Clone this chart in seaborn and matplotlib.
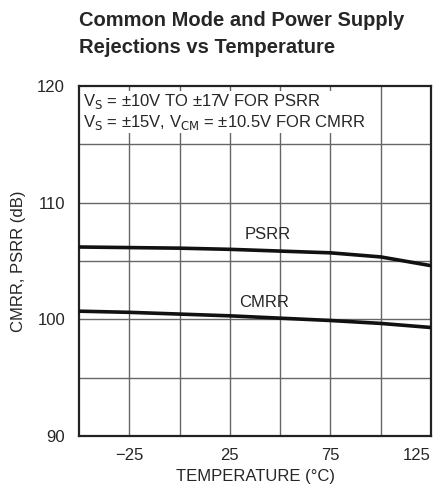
import numpy as np
import pandas as pd
import seaborn as sns
import matplotlib.pyplot as plt
from matplotlib import font_manager

# values
temp = [-50, -25, 0, 25, 50, 75, 100, 125]
psrr = [106.2, 106.15, 106.1, 106.0, 105.85, 105.7, 105.35, 104.6]
cmrr = [100.7, 100.6, 100.45, 100.3, 100.1, 99.9, 99.65, 99.3]

xticks = [-25, 25, 75, 125]
xtick_labels = ["\u221225", "25", "75", "125"]
yticks = [90, 100, 110, 120]

sns.set_style("white")
names = {f.name for f in font_manager.fontManager.ttflist}
fam = "Liberation Sans Narrow" if "Liberation Sans Narrow" in names else "Liberation Sans"
plt.rcParams["font.family"] = [fam, "DejaVu Sans"]

df = pd.DataFrame({"temp": temp * 2, "db": psrr + cmrr,
                   "kind": ["PSRR"] * len(temp) + ["CMRR"] * len(temp)})

fig = plt.figure(figsize=(4.43, 4.91), dpi=100)
ax = fig.add_axes([79 / 443, 1 - 436 / 491, 352 / 443, 350 / 491])

for x in range(-25, 125, 25):
    ax.axvline(x, color="#666666", lw=1.0, zorder=1)
for y in range(95, 120, 5):
    ax.axhline(y, color="#666666", lw=1.0, zorder=1)

sns.lineplot(data=df, x="temp", y="db", units="kind", estimator=None,
             color="#111111", lw=2.6, ax=ax, legend=False, zorder=3)

ax.set_xlim(-50, 125)
ax.set_ylim(90, 120)
ax.set_xticks(xticks)
ax.set_xticklabels(xtick_labels)
ax.set_yticks(yticks)
ax.tick_params(labelsize=12, length=0, pad=9)
ax.tick_params(axis="y", pad=10)
for s in ax.spines.values():
    s.set_color("#222222")
    s.set_linewidth(1.6)
# keep the last tick label inside the canvas
ax.get_xticklabels()[-1].set_ha("right")
ax.get_xticklabels()[-1].set_x(126)

ax.set_xlabel("TEMPERATURE (\u00b0C)", fontsize=12, labelpad=4)
ax.set_ylabel("CMRR, PSRR (dB)", fontsize=12, labelpad=8)

ax.text(-48, 119.5, "V$_\\mathrm{S}$ = \u00b110V TO \u00b117V FOR PSRR\n"
        "V$_\\mathrm{S}$ = \u00b115V, V$_\\mathrm{CM}$ = \u00b110.5V FOR CMRR",
        fontsize=12, va="top", ha="left", linespacing=1.15,
        bbox=dict(facecolor="white", edgecolor="none", pad=1), zorder=4)

ax.text(44, 106.6, "PSRR", fontsize=12, ha="center", va="bottom")
ax.text(42, 100.8, "CMRR", fontsize=12, ha="center", va="bottom")

fig.text(79 / 443, 1 - 11 / 491, "Common Mode and Power Supply\nRejections vs Temperature",
         fontsize=14.5, fontweight="bold", ha="left", va="top", linespacing=1.55)

fig.savefig("out.png", dpi=100)
